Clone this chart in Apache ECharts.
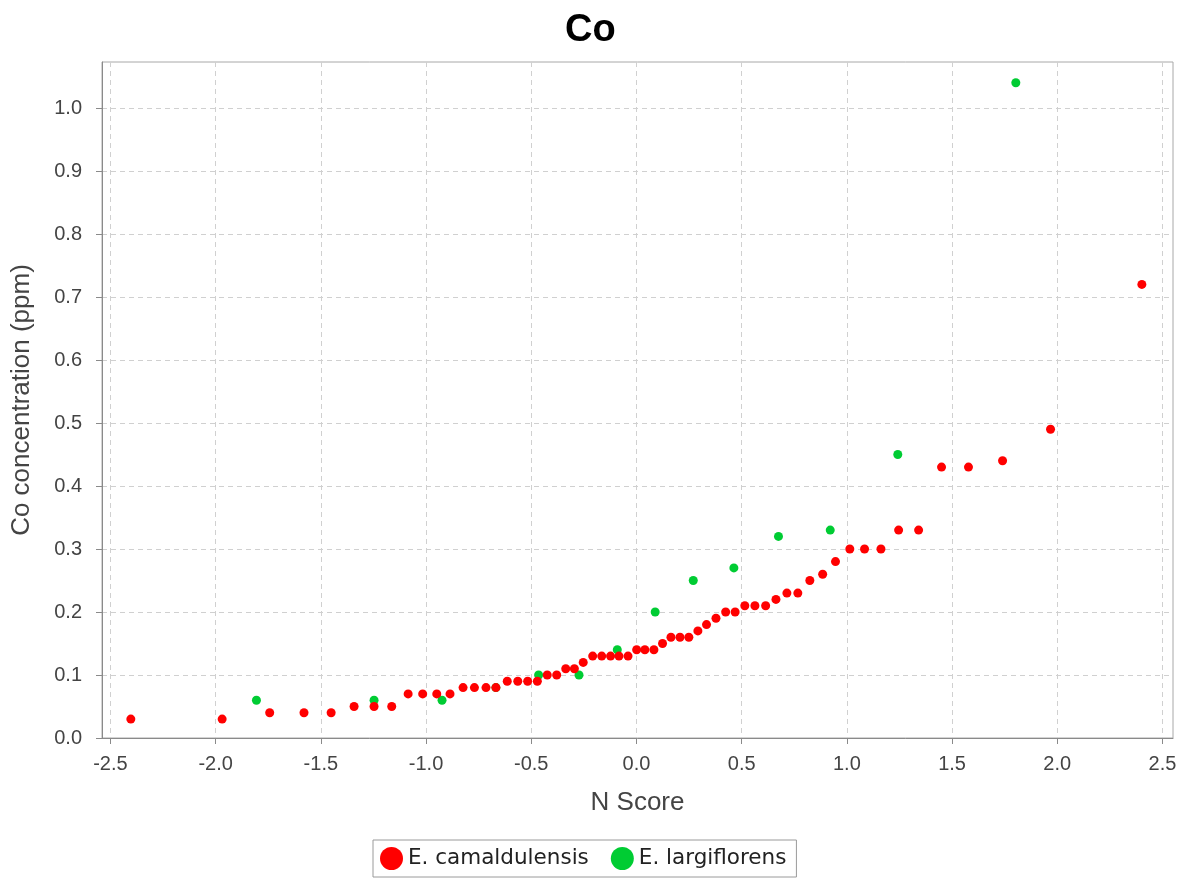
<!DOCTYPE html>
<html>
<head>
<meta charset="utf-8">
<script src="https://cdn.jsdelivr.net/npm/echarts@6/dist/echarts.min.js"></script>
<style>html,body{margin:0;padding:0;background:#fff;}#c{width:1192px;height:880px;}</style>
</head>
<body>
<div id="c"></div>
<script>
// N score (x) and Co concentration in ppm (y)
const camaldulensisX = [-2.403,-1.969,-1.743,-1.580,-1.451,-1.342,-1.247,-1.163,-1.085,-1.016,-0.949,-0.886,-0.824,-0.770,-0.715,-0.668,-0.614,-0.564,-0.517,-0.471,-0.424,-0.379,-0.336,-0.295,-0.253,-0.208,-0.165,-0.123,-0.083,-0.040,0.001,0.040,0.083,0.124,0.164,0.207,0.249,0.292,0.333,0.378,0.424,0.469,0.515,0.563,0.614,0.663,0.715,0.767,0.824,0.885,0.946,1.014,1.084,1.162,1.246,1.341,1.450,1.578,1.740,1.968,2.402];
const camaldulensisY = [0.03,0.03,0.04,0.04,0.04,0.05,0.05,0.05,0.07,0.07,0.07,0.07,0.08,0.08,0.08,0.08,0.09,0.09,0.09,0.09,0.10,0.10,0.11,0.11,0.12,0.13,0.13,0.13,0.13,0.13,0.14,0.14,0.14,0.15,0.16,0.16,0.16,0.17,0.18,0.19,0.20,0.20,0.21,0.21,0.21,0.22,0.23,0.23,0.25,0.26,0.28,0.30,0.30,0.30,0.33,0.33,0.43,0.43,0.44,0.49,0.72];
const largiflorensX = [-1.806,-1.247,-0.924,-0.668,-0.465,-0.273,-0.091,0.089,0.270,0.463,0.675,0.921,1.242,1.803];
const largiflorensY = [0.06,0.06,0.06,0.08,0.10,0.10,0.14,0.20,0.25,0.27,0.32,0.33,0.45,1.04];
const seriesNames = ['E. camaldulensis','E. largiflorens'];
const xTicks = [-2.5,-2.0,-1.5,-1.0,-0.5,0.0,0.5,1.0,1.5,2.0,2.5];
const yTicks = [0.0,0.1,0.2,0.3,0.4,0.5,0.6,0.7,0.8,0.9,1.0];

const zip = (xs, ys) => xs.map((x, i) => [x, ys[i]]);
const chart = echarts.init(document.getElementById('c'), null, {renderer: 'canvas'});
const axisFont = 'Liberation Sans, Arial, sans-serif';
const gridLine = {show: true, lineStyle: {color: '#d0d0d0', type: [5, 4], width: 1}};
chart.setOption({
  animation: false,
  backgroundColor: '#ffffff',
  title: {
    text: 'Co', left: 560, top: 7,
    textStyle: {fontFamily: axisFont, fontSize: 38, fontWeight: 'bold', color: '#000'}
  },
  grid: {left: 102, right: 19, top: 62, bottom: 142, show: true, borderColor: '#a8a8a8', borderWidth: 1, backgroundColor: '#fff'},
  legend: {
    left: 373, top: 840, orient: 'horizontal',
    data: seriesNames,
    icon: 'circle', itemWidth: 23, itemHeight: 23, itemGap: 22,
    padding: [7, 10, 7, 7],
    borderColor: '#9a9a9a', borderWidth: 1,
    textStyle: {fontFamily: 'DejaVu Sans, sans-serif', fontSize: 21.5, color: '#222'}
  },
  xAxis: {
    type: 'value', min: -2.54, max: 2.55,
    name: 'N Score', nameLocation: 'middle', nameGap: 52,
    nameTextStyle: {fontFamily: axisFont, fontSize: 26, color: '#444'},
    axisLine: {show: true, onZero: false, lineStyle: {color: '#8a8a8a'}},
    axisTick: {show: true, length: 6, lineStyle: {color: '#8a8a8a'}, customValues: xTicks},
    axisLabel: {customValues: xTicks, margin: 16, fontFamily: axisFont, fontSize: 20, color: '#444', formatter: v => v.toFixed(1)},
    splitLine: gridLine
  },
  yAxis: {
    type: 'value', min: 0, max: 1.073,
    name: 'Co concentration (ppm)', nameLocation: 'middle', nameGap: 67, nameRotate: 90,
    nameTextStyle: {fontFamily: axisFont, fontSize: 26, color: '#444'},
    axisLine: {show: true, onZero: false, lineStyle: {color: '#8a8a8a'}},
    axisTick: {show: true, length: 6, lineStyle: {color: '#8a8a8a'}, customValues: yTicks},
    axisLabel: {customValues: yTicks, margin: 20, fontFamily: axisFont, fontSize: 20, color: '#444', formatter: v => v.toFixed(1)},
    splitLine: gridLine
  },
  series: [
    {name: seriesNames[0], type: 'scatter', symbol: 'circle', symbolSize: 9, itemStyle: {color: '#ff0000', opacity: 1}, data: zip(camaldulensisX, camaldulensisY), z: 3},
    {name: seriesNames[1], type: 'scatter', symbol: 'circle', symbolSize: 9, itemStyle: {color: '#00cc33', opacity: 1}, data: zip(largiflorensX, largiflorensY), z: 2}
  ]
});
</script>
</body>
</html>
